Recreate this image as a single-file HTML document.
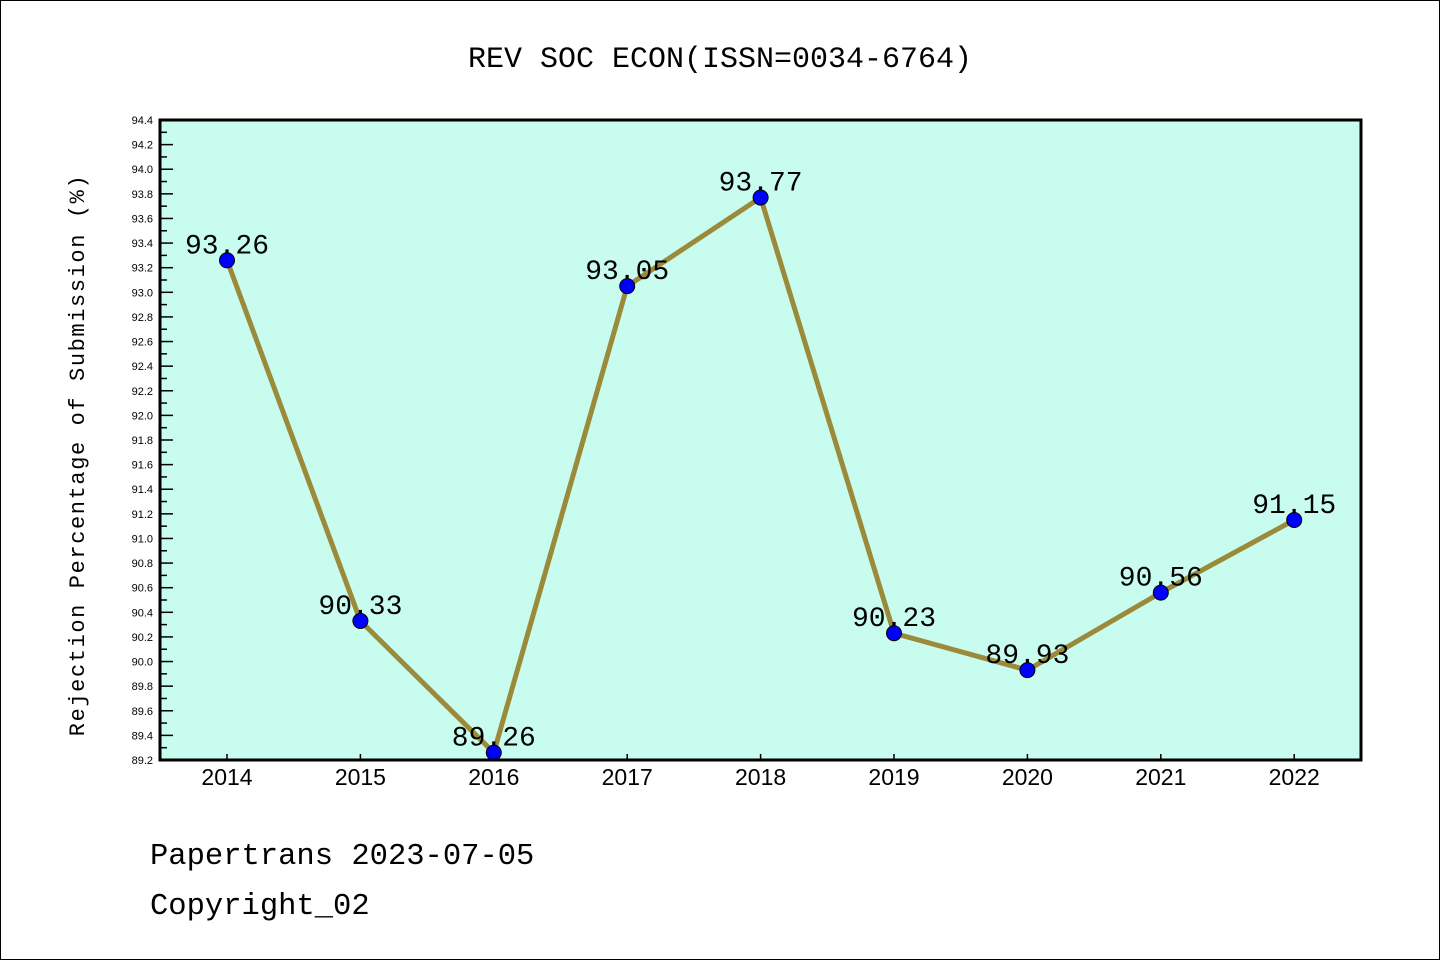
<!DOCTYPE html>
<html><head><meta charset="utf-8"><style>
body{margin:0;background:#fff}
svg{display:block}
</style></head><body>
<svg width="1440" height="960" xmlns="http://www.w3.org/2000/svg">
<rect x="0.5" y="0.5" width="1439" height="959" fill="#fff" stroke="#000"/>
<text x="720" y="67" text-anchor="middle" font-family="Liberation Mono, monospace" font-size="30">REV SOC ECON(ISSN=0034-6764)</text>
<rect x="160" y="120" width="1201" height="640" fill="#c8fcee"/>
<g id="yt"></g><g id="xt"></g><g id="series"></g>
<rect x="160" y="120" width="1201" height="640" fill="none" stroke="#000" stroke-width="3"/>
<text transform="translate(84,455) rotate(-90)" text-anchor="middle" font-family="Liberation Mono, monospace" font-size="22" letter-spacing="1.6">Rejection Percentage of Submission (%)</text>
<text x="150" y="864" font-family="Liberation Mono, monospace" font-size="30.5">Papertrans 2023-07-05</text>
<text x="150" y="914" font-family="Liberation Mono, monospace" font-size="30.5">Copyright_02</text>
</svg>
<script>
const years=["2014","2015","2016","2017","2018","2019","2020","2021","2022"];
const values=[93.26,90.33,89.26,93.05,93.77,90.23,89.93,90.56,91.15];
const labels=["93.26","90.33","89.26","93.05","93.77","90.23","89.93","90.56","91.15"];
const yMin=89.2,yMax=94.4;
const NS="http://www.w3.org/2000/svg";
function y(v){return 760-(v-yMin)/(yMax-yMin)*640;}
function x(i){return 227+i*133.4;}
function mk(t,a,p){const e=document.createElementNS(NS,t);for(const k in a)e.setAttribute(k,a[k]);p.appendChild(e);return e;}
const yt=document.getElementById('yt'),xt=document.getElementById('xt'),s=document.getElementById('series');
for(let k=0;k<=52;k++){const v=yMin+k*0.1;const yy=y(v);const major=k%2===0;
 const l=mk('line',{x1:160,x2:major?173:167,y1:yy,y2:yy,stroke:'#000','stroke-width':1.5},yt);
 
 
 if(major){const t=mk('text',{x:153,y:yy+4,'text-anchor':'end','font-family':'Liberation Sans, sans-serif','font-size':11},yt);t.textContent=v.toFixed(1);
 
 }}
years.forEach((yr,i)=>{const l=mk('line',{x1:x(i),x2:x(i),y1:760,y2:754,stroke:'#000','stroke-width':1.5},xt);
 
 
 const t=mk('text',{x:x(i),y:785,'text-anchor':'middle','font-family':'Liberation Sans, sans-serif','font-size':23},xt);t.textContent=yr;
 
 });
const pl=mk('polyline',{points:values.map((v,i)=>x(i)+','+y(v)).join(' '),fill:'none',stroke:'#9a8a3a','stroke-width':5},s);


values.forEach((v,i)=>{const c=mk('circle',{cx:x(i),cy:y(v),r:7.5,fill:'#0000ff',stroke:'#000','stroke-width':1},s);
 
 
 const t=mk('text',{x:x(i),y:y(v)-7,'text-anchor':'middle','font-family':'Liberation Mono, monospace','font-size':28},s);t.textContent=labels[i];
 
 });
</script>
</body></html>
